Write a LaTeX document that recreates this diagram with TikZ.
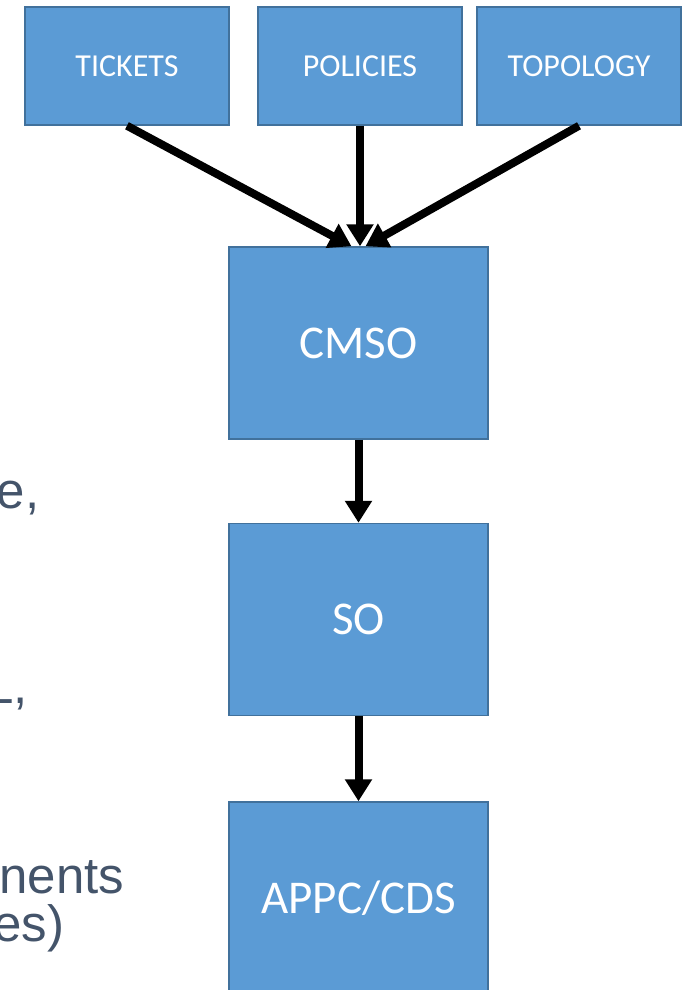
\documentclass[tikz,border=0pt]{standalone}
\usepackage{fontspec}
\setmainfont{Liberation Sans}
\newfontfamily\boxfont{Carlito}
\usetikzlibrary{arrows.meta}
\definecolor{boxblue}{HTML}{5B9BD5}
\definecolor{boxedge}{HTML}{41719C}
\definecolor{textgray}{HTML}{44546A}

\begin{document}
\begin{tikzpicture}[x=1pt,y=-1pt,
    block/.style={draw=boxedge,fill=boxblue,line width=1.5pt,text=white,inner sep=0pt},
    srcblock/.style={block,minimum width=204pt,minimum height=118pt,font=\boxfont\fontsize{32}{38}\selectfont},
    stageblock/.style={block,minimum width=259pt,minimum height=192pt,font=\boxfont\fontsize{47}{56}\selectfont},
    flow/.style={line width=8pt,-{Triangle[length=22pt,width=26pt]}},
    leftover/.style={anchor=base east,inner sep=0pt,text=textgray,font=\fontsize{51}{57}\selectfont}]
  \pgfmathsetmacro{\colX}{358.5}
  \pgfmathsetmacro{\srcY}{66}

  \clip (0,0) rectangle (684,990);

  % cut-off bullet text on the left
  \node[leftover] (frag1) at (39.5,508) {e,};
  \node[leftover] (frag2) at (28,703) {L,};
  \node[leftover] (frag3) at (124.5,893) {nents};
  \node[leftover] (frag4) at (64.5,941) {es)};

  % inputs
  \node[srcblock] (tickets)  at (127,\srcY) {TICKETS};
  \node[srcblock] (policies) at (360,\srcY) {POLICIES};
  \node[srcblock] (topology) at (579,\srcY) {TOPOLOGY};

  % chain
  \node[stageblock] (cmso) at (\colX,343)   {CMSO};
  \node[stageblock] (so)   at (\colX,619.5) {SO};
  \node[stageblock] (appc) at (\colX,898)   {APPC/CDS};

  \draw[flow] (tickets.south)  -- ([xshift=-7pt]cmso.north);
  \draw[flow] (policies.south) -- (policies.south |- cmso.north);
  \draw[flow] (topology.south) -- ([xshift=7pt]cmso.north);
  \draw[flow] (cmso) -- (so);
  \draw[flow] (so) -- (appc);
\end{tikzpicture}
\end{document}
